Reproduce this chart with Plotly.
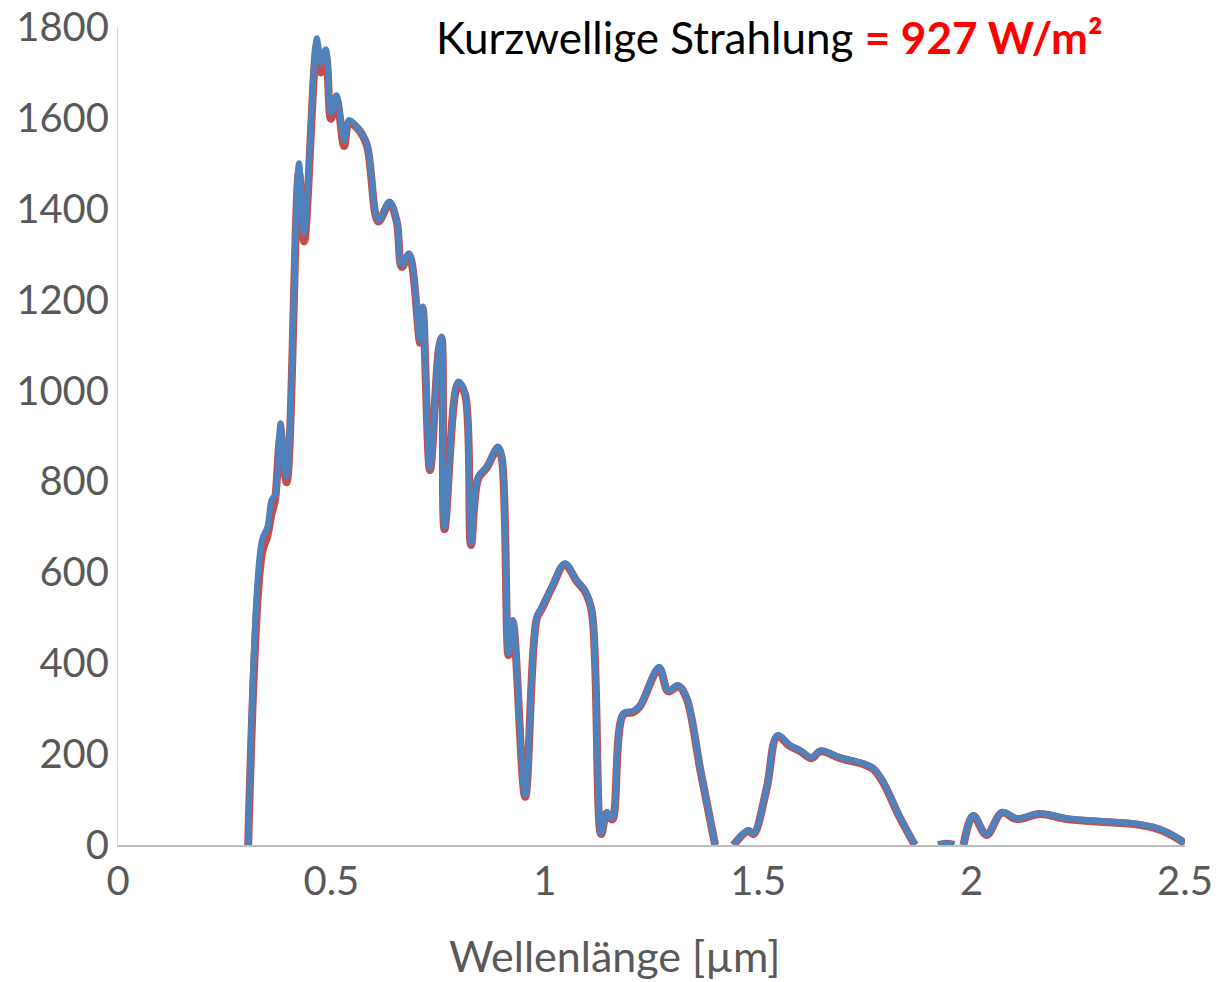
import plotly.graph_objects as go

wavelength = [0.305, 0.337, 0.350, 0.360, 0.368, 0.381, 0.395, 0.424, 0.436, 0.466,
              0.475, 0.487, 0.499, 0.512, 0.530, 0.541, 0.563, 0.583, 0.610, 0.636,
              0.653, 0.665, 0.682, 0.708, 0.714, 0.731, 0.751, 0.758, 0.765, 0.797,
              0.813, 0.827, 0.844, 0.864, 0.890, 0.899, 0.915, 0.925, 0.954, 0.981,
              0.993, 1.016, 1.047, 1.075, 1.094, 1.110, 1.132, 1.145, 1.158, 1.184,
              1.207, 1.223, 1.268, 1.289, 1.313, 1.332, 1.365, 1.399, 1.420, 1.442,
              1.477, 1.489, 1.520, 1.545, 1.574, 1.598, 1.625, 1.646, 1.692, 1.746,
              1.770, 1.793, 1.832, 1.867, 1.895, 1.922, 1.940, 1.959, 1.970, 1.981,
              2.004, 2.035, 2.071, 2.106, 2.160, 2.223, 2.301, 2.379, 2.426, 2.457,
              2.500]

irradiance_blue = [0, 670, 700, 760, 770, 928, 810, 1500, 1347, 1775,
                   1721, 1751, 1611, 1650, 1551, 1595, 1577, 1545, 1375, 1416,
                   1375, 1276, 1302, 1111, 1185, 830, 1089, 1119, 700, 1020,
                   995, 665, 811, 833, 877, 855, 422, 495, 110, 502,
                   524, 568, 620, 583, 561, 517, 26, 73, 59, 290,
                   295, 308, 392, 341, 352, 326, 165, 0, None, 0,
                   33, 26, 128, 242, 220, 209, 193, 208, 193, 180,
                   169, 139, 62, 0, None, 0, 4, 0, None, 0,
                   66, 24, 73, 59, 70, 59, 53, 48, 40, 29,
                   5]

irradiance_red = [0, 640, 680, 730, 760, 900, 798, 1480, 1328, 1760,
                  1700, 1735, 1598, 1640, 1538, 1590, 1575, 1540, 1372, 1412,
                  1372, 1272, 1298, 1105, 1180, 825, 1085, 1115, 695, 1016,
                  992, 660, 806, 830, 873, 852, 418, 490, 106, 498,
                  520, 565, 617, 580, 558, 514, 24, 70, 56, 287,
                  292, 305, 389, 338, 349, 323, 162, 0, None, 0,
                  31, 24, 125, 239, 218, 207, 191, 206, 191, 178,
                  167, 137, 60, 0, None, 0, 3, 0, None, 0,
                  64, 22, 71, 57, 68, 57, 51, 46, 38, 27,
                  4]

x_ticks = [0, 0.5, 1, 1.5, 2, 2.5]
x_tick_labels = ["0", "0.5", "1", "1.5", "2", "2.5"]
y_ticks = [0, 200, 400, 600, 800, 1000, 1200, 1400, 1600, 1800]

fig = go.Figure()
fig.add_trace(go.Scatter(x=wavelength, y=irradiance_red, mode="lines",
                         line=dict(color="#C0504D", width=8, shape="spline", smoothing=1.0),
                         connectgaps=False, showlegend=False))
fig.add_trace(go.Scatter(x=wavelength, y=irradiance_blue, mode="lines",
                         line=dict(color="#4F81BD", width=6, shape="spline", smoothing=1.0),
                         connectgaps=False, showlegend=False))

fig.update_layout(
    width=1220, height=982,
    margin=dict(l=118, r=35, t=27, b=137, autoexpand=False),
    paper_bgcolor="white", plot_bgcolor="white",
    font=dict(family="Lato", color="#595959", size=40),
    xaxis=dict(range=[0, 2.5], tickvals=x_ticks, ticktext=x_tick_labels, automargin=False,
               showgrid=False, zeroline=False, showline=True, linecolor="#BFBFBF",
               linewidth=2, ticks="", tickfont=dict(size=40, color="#595959")),
    yaxis=dict(range=[0, 1800], tickvals=y_ticks, showgrid=False, zeroline=False, automargin=False,
               showline=True, linecolor="#D9D9D9", linewidth=1, ticks="",
               tickfont=dict(size=40, color="#595959")),
    annotations=[
        dict(xref="paper", yref="paper", x=0.925, y=0.988, xanchor="right", yanchor="middle",
             text="Kurzwellige Strahlung <b><span style='color:#FF0000'>= 927 W/m²</span></b>",
             showarrow=False, font=dict(family="Lato", size=44, color="#000000")),
        dict(xref="paper", yref="paper", x=0.465, y=-0.1345, xanchor="center", yanchor="middle",
             text="Wellenlänge [µm]", showarrow=False,
             font=dict(family="Lato", size=43, color="#595959")),
    ],
)

fig.write_html("out.html")
